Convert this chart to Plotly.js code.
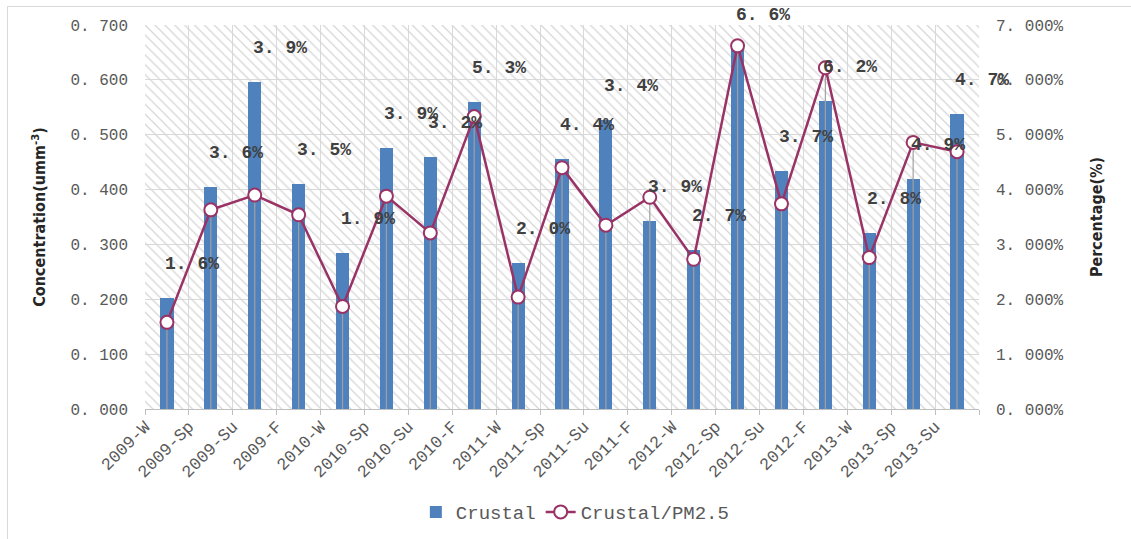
<!DOCTYPE html>
<html>
<head>
<meta charset="utf-8">
<script src="https://cdn.plot.ly/plotly-3.0.1.min.js"></script>
<style>
  html, body { margin: 0; padding: 0; background: #ffffff; }
  #frame { position: absolute; left: 7px; top: 6px; width: 1140px; height: 545px; border: 1px solid #d9d9d9; box-sizing: border-box; }
  #chart { position: absolute; left: 0; top: 0; width: 1131px; height: 539px; }
</style>
</head>
<body>
<div id="frame"></div>
<div id="chart"></div>
<script>
// ---- data ----
const categories = ['2009-W','2009-Sp','2009-Su','2009-F',
                    '2010-W','2010-Sp','2010-Su','2010-F',
                    '2011-W','2011-Sp','2011-Su','2011-F',
                    '2012-W','2012-Sp','2012-Su','2012-F',
                    '2013-W','2013-Sp','2013-Su'];
const crustal = [0.203,0.404,0.597,0.411,
                 0.285,0.476,0.460,0.560,
                 0.266,0.456,0.527,0.343,
                 0.290,0.656,0.434,0.562,
                 0.320,0.419,0.537];
const crustalPct = [1.58,3.63,3.90,3.54,
                    1.87,3.88,3.21,5.33,
                    2.04,4.40,3.35,3.86,
                    2.73,6.62,3.74,6.22,
                    2.76,4.86,4.69];
const leftTickVals = [0,0.1,0.2,0.3,0.4,0.5,0.6,0.7];
const leftTickText = ['0. 000','0. 100','0. 200','0. 300','0. 400','0. 500','0. 600','0. 700'];
const rightTickVals = [0,1,2,3,4,5,6,7];
const rightTickText = ['0. 000%','1. 000%','2. 000%','3. 000%','4. 000%','5. 000%','6. 000%','7. 000%'];

const monoFont = 'Liberation Mono, DejaVu Sans Mono, monospace';
const narrowFont = 'Liberation Sans Narrow, DejaVu Sans Condensed, Arial Narrow, sans-serif';

// decorative hatched plot background
const hatch = {
  type: 'bar', x: [0.5], y: [1], width: [1],
  xaxis: 'x', yaxis: 'y',
  marker: { color: 'rgba(0,0,0,0)', line: { width: 0 },
            pattern: { shape: '\\', fgcolor: '#d6d6d6', bgcolor: 'rgba(0,0,0,0)', size: 7, solidity: 0.18 } },
  hoverinfo: 'skip', showlegend: false
};

const bars = {
  type: 'bar', name: 'Crustal',
  x: categories, y: crustal,
  xaxis: 'x2', yaxis: 'y2',
  width: 0.3,
  marker: { color: '#4f81bd', line: { width: 0 } }
};

const line = {
  type: 'scatter', mode: 'lines+markers', name: 'Crustal/PM2.5',
  x: categories, y: crustalPct,
  xaxis: 'x2', yaxis: 'y3',
  line: { color: '#993366', width: 2.5 },
  marker: { symbol: 'circle', size: 13, color: '#ffffff', line: { color: '#993366', width: 2 } },
  error_y: { type: 'data', symmetric: false, array: crustalPct.map(() => 0), arrayminus: crustalPct,
             width: 0, thickness: 1.2, color: '#a0a0a0' }
};

const annotations = categories.map((c, i) => ({
  x: c, y: crustal[i], xref: 'x2', yref: 'y2',
  text: crustalPct[i].toFixed(1).replace('.', '. ') + '%',
  showarrow: false, xshift: 25, yshift: 34,
  font: { family: monoFont, size: 18, color: '#404040', weight: 'bold' }
}));

const layout = {
  width: 1131, height: 539,
  margin: { l: 145, r: 152, t: 25, b: 130 },
  paper_bgcolor: 'rgba(0,0,0,0)',
  plot_bgcolor: 'rgba(0,0,0,0)',
  showlegend: true,
  bargap: 0,
  legend: {
    orientation: 'h', x: 0.516, xanchor: 'center',
    yref: 'container', y: 0.05, yanchor: 'middle',
    font: { family: monoFont, size: 19, color: '#595959' },
    traceorder: 'normal'
  },
  xaxis: { range: [0, 1], visible: false, fixedrange: true, automargin: false },
  yaxis: { range: [0, 1], visible: false, fixedrange: true, automargin: false },
  xaxis2: {
    overlaying: 'x', anchor: 'y2', type: 'category', automargin: false,
    range: [-0.5, categories.length - 0.5],
    tickson: 'boundaries', ticks: 'outside', ticklen: 5, tickcolor: '#bfbfbf',
    showgrid: true, gridcolor: '#d9d9d9', gridwidth: 1,
    showline: true, linecolor: '#bfbfbf', linewidth: 1,
    tickangle: -45, ticklabelshift: -22,
    tickfont: { family: monoFont, size: 17, color: '#595959' }
  },
  yaxis2: {
    overlaying: 'y', anchor: 'x2', side: 'left', automargin: false,
    range: [0, 0.7], tickvals: leftTickVals, ticktext: leftTickText,
    showgrid: true, gridcolor: '#d9d9d9', gridwidth: 1, zeroline: false, showline: false,
    ticks: '', ticklabelstandoff: 16,
    tickfont: { family: monoFont, size: 16, color: '#595959' },
    title: { text: 'Concentration(umm<sup>-3</sup>)', standoff: 20,
             font: { family: narrowFont, size: 16, color: '#262626', weight: 'bold' } }
  },
  yaxis3: {
    overlaying: 'y', anchor: 'x2', side: 'right', automargin: false,
    range: [0, 7], tickvals: rightTickVals, ticktext: rightTickText,
    showgrid: false, zeroline: false, showline: false,
    ticks: '', ticklabelstandoff: 16,
    tickfont: { family: monoFont, size: 16, color: '#595959' },
    title: { text: 'Percentage(%)', standoff: 28,
             font: { family: narrowFont, size: 16, color: '#262626', weight: 'bold' } }
  },
  annotations: annotations
};

Plotly.newPlot('chart', [hatch, bars, line], layout, { displayModeBar: false, responsive: false });
</script>
</body>
</html>
